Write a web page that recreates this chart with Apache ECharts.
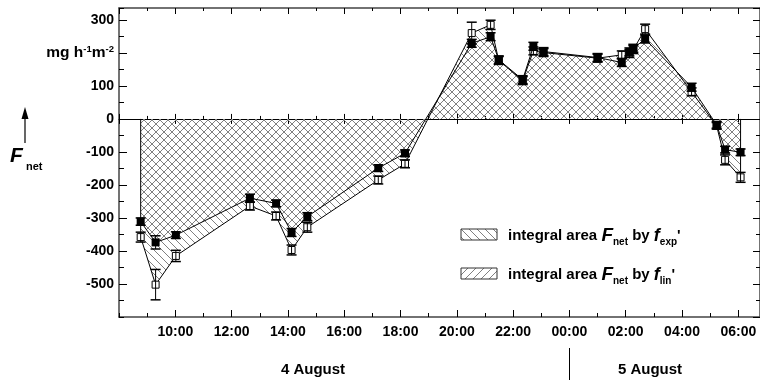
<!DOCTYPE html>
<html>
<head>
<meta charset="utf-8">
<script src="https://cdn.jsdelivr.net/npm/echarts@6/dist/echarts.min.js"></script>
<style>
  html, body { margin: 0; background: #fff; }
  #chart { width: 760px; height: 380px; }
</style>
</head>
<body>
<div id="chart"></div>
<script>
// hours counted from 4 August 00:00
const hours = [8.77, 9.30, 10.02, 12.65, 13.58, 14.13, 14.69, 17.21, 18.16, 20.53, 21.20, 21.49, 22.34, 22.72, 23.08, 25.00, 25.86, 26.13, 26.27, 26.69, 28.34, 29.23, 29.53, 30.08];
// filled squares
const fLin = [-311, -374, -352, -240, -256, -344, -296, -149, -104, 229, 249, 179, 119, 220, 204, 186, 171, 203, 214, 242, 96, -18, -93, -101];
const errLin = [11, 20, 10, 12, 10, 12, 12, 10, 10, 12, 12, 12, 12, 12, 12, 12, 12, 12, 12, 12, 12, 10, 10, 10];
// open squares
const fExp = [-358, -502, -415, -264, -294, -397, -328, -185, -136, 260, 285, 177, 116, 206, 201, 184, 194, 198, 210, 272, 82, -21, -124, -177];
const errExp = [15, 46, 17, 12, 12, 15, 15, 12, 12, 33, 14, 12, 12, 12, 12, 12, 12, 12, 12, 15, 12, 10, 15, 15];

const unitValue = 200;
const days = ['4 August', '5 August'];
const legendNames = ['exp', 'lin'];

const FONT = 'Arial, "Liberation Sans", sans-serif';

function hatch(dir, size) {
  const c = document.createElement('canvas');
  c.width = size; c.height = size;
  const g = c.getContext('2d');
  g.strokeStyle = '#808080';
  g.lineWidth = 1;
  g.beginPath();
  const s = size;
  if (dir > 0) { // '/'
    g.moveTo(0, s); g.lineTo(s, 0);
    g.moveTo(-s / 2, s / 2); g.lineTo(s / 2, -s / 2);
    g.moveTo(s / 2, s * 1.5); g.lineTo(s * 1.5, s / 2);
  } else {       // '\'
    g.moveTo(0, 0); g.lineTo(s, s);
    g.moveTo(-s / 2, s / 2); g.lineTo(s / 2, s * 1.5);
    g.moveTo(s / 2, -s / 2); g.lineTo(s * 1.5, s / 2);
  }
  g.stroke();
  return c;
}
const backHatch = { image: hatch(-1, 8), repeat: 'repeat' };
const fwdHatch = { image: hatch(1, 8), repeat: 'repeat' };

const pairs = vals => hours.map((h, i) => [h, vals[i]]);

function errorBars(vals, errs) {
  return {
    type: 'custom',
    z: 5,
    silent: true,
    data: hours.map((h, i) => [h, vals[i] - errs[i], vals[i] + errs[i]]),
    encode: { x: 0, y: [1, 2] },
    renderItem: function (params, api) {
      const lo = api.coord([api.value(0), api.value(1)]);
      const hi = api.coord([api.value(0), api.value(2)]);
      const w = 5;
      const st = { stroke: '#000', lineWidth: 1 };
      return {
        type: 'group',
        children: [
          { type: 'line', shape: { x1: lo[0], y1: lo[1], x2: hi[0], y2: hi[1] }, style: st },
          { type: 'line', shape: { x1: lo[0] - w, y1: lo[1], x2: lo[0] + w, y2: lo[1] }, style: { stroke: '#000', lineWidth: 1.5 } },
          { type: 'line', shape: { x1: hi[0] - w, y1: hi[1], x2: hi[0] + w, y2: hi[1] }, style: { stroke: '#000', lineWidth: 1.5 } }
        ]
      };
    }
  };
}

const fmtHour = v => {
  const h = Math.round(v) % 24;
  return (h < 10 ? '0' : '') + h + ':00';
};

const axisLineStyle = { color: '#444', width: 1.5 };
const tickStyle = { color: '#000', width: 1 };
const xMin = 8, xMax = 30.77, yMin = -600, yMax = 336;

function xAx(opt) {
  return Object.assign({
    type: 'value', min: xMin, max: xMax, interval: 2,
    splitLine: { show: false },
    axisLabel: { show: false },
    axisLine: { show: false, onZero: false }
  }, opt);
}
function yAx(opt) {
  return Object.assign({
    type: 'value', min: yMin, max: yMax, interval: 100,
    splitLine: { show: false },
    axisLabel: { show: false },
    axisLine: { show: false, onZero: false }
  }, opt);
}

const chart = echarts.init(document.getElementById('chart'));
chart.setOption({
  animation: false,
  grid: { left: 119, right: 0, top: 8, bottom: 63 },
  xAxis: [
    xAx({
      position: 'bottom',
      axisLine: { show: true, onZero: false, lineStyle: axisLineStyle },
      axisTick: { inside: true, length: 7, lineStyle: tickStyle },
      axisLabel: {
        show: true, formatter: fmtHour, showMinLabel: false, showMaxLabel: false,
        margin: 8, fontSize: 14, fontWeight: 'bold', color: '#000', fontFamily: FONT
      }
    }),
    xAx({ position: 'bottom', interval: 1, axisTick: { inside: true, length: 4, lineStyle: tickStyle } }),
    xAx({
      position: 'top',
      axisLine: { show: true, onZero: false, lineStyle: axisLineStyle },
      axisTick: { inside: true, length: 6, lineStyle: tickStyle }
    }),
    xAx({ position: 'top', interval: 1, axisTick: { inside: true, length: 3, lineStyle: tickStyle } }),
    xAx({
      position: 'bottom',
      axisLine: { show: true, onZero: true, onZeroAxisIndex: 0, lineStyle: { color: '#000', width: 1 } },
      axisTick: { inside: true, length: 5, lineStyle: tickStyle }
    }),
    xAx({
      position: 'bottom',
      axisLine: { show: false, onZero: true, onZeroAxisIndex: 0 },
      axisTick: { inside: false, length: 5, lineStyle: tickStyle }
    }),
    xAx({
      position: 'bottom', interval: 1,
      axisLine: { show: false, onZero: true, onZeroAxisIndex: 0 },
      axisTick: { inside: true, length: 3, lineStyle: tickStyle }
    })
  ],
  yAxis: [
    yAx({
      position: 'left',
      axisLine: { show: true, onZero: false, lineStyle: axisLineStyle },
      axisTick: { inside: true, length: 8, lineStyle: tickStyle },
      axisLabel: {
        show: true, showMinLabel: false, showMaxLabel: false, margin: 5,
        fontSize: 14, fontWeight: 'bold', color: '#000', fontFamily: FONT,
        lineHeight: 18,
        formatter: v => v === unitValue ? '{u|mg h}{s|-1}{u|m}{s|-2}' : String(v),
        rich: {
          u: { fontSize: 15.5, fontWeight: 'bold', color: '#000', fontFamily: FONT, lineHeight: 18 },
          s: { fontSize: 9.5, fontWeight: 'bold', color: '#000', fontFamily: FONT, verticalAlign: 'top', lineHeight: 10 }
        }
      }
    }),
    yAx({ position: 'left', interval: 50, axisTick: { inside: true, length: 5, lineStyle: tickStyle } }),
    yAx({
      position: 'right',
      axisLine: { show: true, onZero: false, lineStyle: axisLineStyle },
      axisTick: { inside: true, length: 7, lineStyle: tickStyle }
    }),
    yAx({ position: 'right', interval: 50, axisTick: { inside: true, length: 4, lineStyle: tickStyle } })
  ],
  series: [
    {
      name: 'area exp', type: 'line', z: 1, silent: true,
      data: pairs(fExp), showSymbol: false,
      lineStyle: { width: 0, opacity: 0 },
      areaStyle: { color: backHatch, opacity: 1 }
    },
    {
      name: 'area lin', type: 'line', z: 1, silent: true,
      data: pairs(fLin), showSymbol: false,
      lineStyle: { width: 0, opacity: 0 },
      areaStyle: { color: fwdHatch, opacity: 1 }
    },
    {
      name: 'edges', type: 'line', z: 3, silent: true,
      data: [[hours[0], 0], [hours[0], fExp[0]]],
      showSymbol: false, lineStyle: { color: '#000', width: 1 }
    },
    {
      name: 'edges2', type: 'line', z: 3, silent: true,
      data: [[hours[hours.length - 1], 0], [hours[hours.length - 1], fExp[fExp.length - 1]]],
      showSymbol: false, lineStyle: { color: '#000', width: 1 }
    },
    {
      name: 'exp', type: 'line', z: 3,
      data: pairs(fExp),
      symbol: 'rect', symbolSize: 7, showSymbol: true,
      lineStyle: { color: '#000', width: 1 },
      itemStyle: { color: '#fff', borderColor: '#000', borderWidth: 1 }
    },
    {
      name: 'lin', type: 'line', z: 4,
      data: pairs(fLin),
      symbol: 'rect', symbolSize: 8, showSymbol: true,
      lineStyle: { color: '#000', width: 1 },
      itemStyle: { color: '#000', borderColor: '#000', borderWidth: 0 }
    },
    errorBars(fExp, errExp),
    errorBars(fLin, errLin)
  ],
  graphic: [
    // F_net with arrow
    { type: 'line', shape: { x1: 25, y1: 143, x2: 25, y2: 116 }, style: { stroke: '#000', lineWidth: 1.2 } },
    { type: 'polygon', shape: { points: [[21.5, 119], [28.5, 119], [25, 107]] }, style: { fill: '#000' } },
    { type: 'text', x: 10, y: 156, style: { text: 'F', font: 'italic bold 21px ' + FONT, fill: '#000', verticalAlign: 'middle' } },
    { type: 'text', x: 26, y: 167, style: { text: 'net', font: 'bold 11px ' + FONT, fill: '#000', verticalAlign: 'middle' } },
    // legend
    { type: 'rect', shape: { x: 461, y: 229, width: 36, height: 11 }, style: { fill: backHatch, stroke: '#333', lineWidth: 1 } },
    { type: 'rect', shape: { x: 461, y: 268, width: 36, height: 11 }, style: { fill: fwdHatch, stroke: '#333', lineWidth: 1 } },
    {
      type: 'text', x: 508, y: 236,
      style: {
        text: 'integral area {F|F}{sub|net} by {f|f}{sub|' + legendNames[0] + '}\'',
        font: 'bold 15px ' + FONT, fill: '#000', verticalAlign: 'middle', lineHeight: 22,
        rich: {
          F: { fontSize: 19, fontStyle: 'italic', fontWeight: 'bold', fontFamily: FONT, lineHeight: 22 },
          f: { fontSize: 18, fontStyle: 'italic', fontWeight: 'bold', fontFamily: FONT, lineHeight: 22 },
          sub: { fontSize: 10, fontWeight: 'bold', fontFamily: FONT, verticalAlign: 'bottom', lineHeight: 10 }
        }
      }
    },
    {
      type: 'text', x: 508, y: 275,
      style: {
        text: 'integral area {F|F}{sub|net} by {f|f}{sub|' + legendNames[1] + '}\'',
        font: 'bold 15px ' + FONT, fill: '#000', verticalAlign: 'middle', lineHeight: 22,
        rich: {
          F: { fontSize: 19, fontStyle: 'italic', fontWeight: 'bold', fontFamily: FONT, lineHeight: 22 },
          f: { fontSize: 18, fontStyle: 'italic', fontWeight: 'bold', fontFamily: FONT, lineHeight: 22 },
          sub: { fontSize: 10, fontWeight: 'bold', fontFamily: FONT, verticalAlign: 'bottom', lineHeight: 10 }
        }
      }
    },
    // day labels
    { type: 'text', x: 313, y: 370, style: { text: days[0], font: 'bold 15px ' + FONT, fill: '#000', align: 'center', verticalAlign: 'middle' } },
    { type: 'text', x: 650, y: 370, style: { text: days[1], font: 'bold 15px ' + FONT, fill: '#000', align: 'center', verticalAlign: 'middle' } },
    { type: 'line', shape: { x1: 569.5, y1: 348, x2: 569.5, y2: 380 }, style: { stroke: '#000', lineWidth: 1 } }
  ]
});
window.addEventListener('resize', function () {
  chart.resize();
});
</script>
</body>
</html>
